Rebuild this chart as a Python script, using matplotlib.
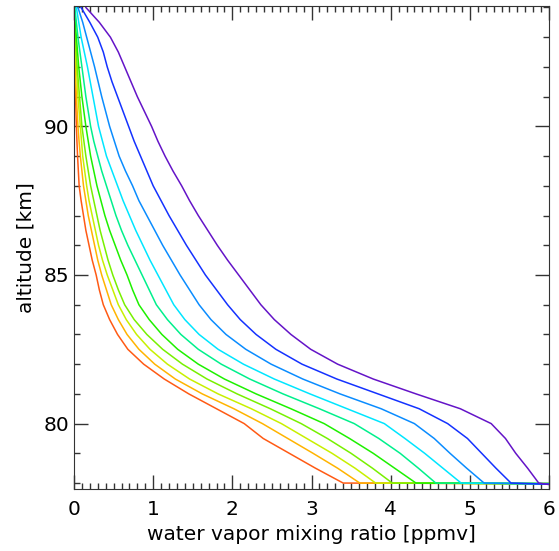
import matplotlib
matplotlib.use("Agg")
import matplotlib.pyplot as plt
from matplotlib.ticker import MultipleLocator

# altitude grid [km], shared by all profiles (94 km down to 78 km, 0.5 km steps)
altitude = [94, 93.5, 93, 92.5, 92, 91.5, 91, 90.5, 90, 89.5, 89, 88.5, 88, 87.5, 87,
            86.5, 86, 85.5, 85, 84.5, 84, 83.5, 83, 82.5, 82, 81.5, 81, 80.5, 80,
            79.5, 79, 78.5, 78]

# water vapor mixing ratio [ppmv], one profile per colour
h2o_1 = [0.0, 0.001, 0.003, 0.006, 0.01, 0.015, 0.02, 0.025, 0.03, 0.037, 0.045, 0.055, 0.065,
         0.09, 0.12, 0.15, 0.19, 0.23, 0.28, 0.32, 0.37, 0.45, 0.55, 0.68, 0.88, 1.14, 1.45,
         1.80, 2.15, 2.39, 2.72, 3.05, 3.40]
h2o_2 = [0.0, 0.002, 0.005, 0.01, 0.015, 0.022, 0.03, 0.04, 0.05, 0.064, 0.08, 0.10, 0.12,
         0.15, 0.18, 0.22, 0.26, 0.30, 0.35, 0.41, 0.47, 0.56, 0.67, 0.82, 1.02, 1.28, 1.62,
         2.02, 2.38, 2.70, 3.02, 3.33, 3.61]
h2o_3 = [0.0, 0.005, 0.01, 0.02, 0.03, 0.04, 0.05, 0.065, 0.08, 0.095, 0.11, 0.135, 0.16,
         0.19, 0.23, 0.27, 0.31, 0.36, 0.42, 0.49, 0.56, 0.66, 0.79, 0.96, 1.18, 1.46, 1.82,
         2.24, 2.62, 2.94, 3.26, 3.55, 3.81]
h2o_4 = [0.0, 0.01, 0.02, 0.03, 0.04, 0.055, 0.07, 0.085, 0.10, 0.125, 0.15, 0.18, 0.21,
         0.25, 0.29, 0.33, 0.38, 0.43, 0.49, 0.56, 0.64, 0.76, 0.92, 1.12, 1.37, 1.68, 2.06,
         2.48, 2.87, 3.20, 3.50, 3.77, 4.02]
h2o_5 = [0.0, 0.015, 0.03, 0.045, 0.06, 0.08, 0.10, 0.125, 0.15, 0.18, 0.21, 0.25, 0.29,
         0.34, 0.39, 0.45, 0.52, 0.59, 0.67, 0.74, 0.82, 0.95, 1.11, 1.31, 1.57, 1.90, 2.30,
         2.74, 3.16, 3.48, 3.78, 4.05, 4.32]
h2o_6 = [0.01, 0.03, 0.05, 0.075, 0.10, 0.125, 0.15, 0.18, 0.21, 0.25, 0.30, 0.35, 0.41,
         0.47, 0.53, 0.60, 0.68, 0.77, 0.86, 0.95, 1.04, 1.18, 1.35, 1.57, 1.86, 2.22, 2.64,
         3.10, 3.54, 3.85, 4.12, 4.35, 4.57]
h2o_7 = [0.03, 0.06, 0.09, 0.13, 0.17, 0.205, 0.24, 0.275, 0.31, 0.36, 0.41, 0.48, 0.55,
         0.62, 0.70, 0.78, 0.87, 0.96, 1.06, 1.16, 1.26, 1.40, 1.58, 1.82, 2.14, 2.53, 2.98,
         3.45, 3.92, 4.18, 4.43, 4.66, 4.89]
h2o_8 = [0.05, 0.11, 0.16, 0.21, 0.26, 0.305, 0.35, 0.40, 0.45, 0.51, 0.57, 0.65, 0.74,
         0.82, 0.92, 1.02, 1.12, 1.23, 1.34, 1.46, 1.58, 1.73, 1.92, 2.17, 2.49, 2.89, 3.36,
         3.88, 4.30, 4.55, 4.75, 4.96, 5.18]
h2o_9 = [0.09, 0.20, 0.30, 0.37, 0.42, 0.48, 0.55, 0.62, 0.69, 0.76, 0.84, 0.92, 1.00,
         1.10, 1.20, 1.31, 1.42, 1.54, 1.66, 1.80, 1.94, 2.10, 2.30, 2.55, 2.88, 3.32, 3.84,
         4.36, 4.72, 4.97, 5.15, 5.33, 5.52]
h2o_10 = [0.15, 0.32, 0.46, 0.56, 0.64, 0.72, 0.80, 0.89, 0.98, 1.06, 1.15, 1.25, 1.36,
          1.46, 1.57, 1.69, 1.81, 1.94, 2.08, 2.22, 2.36, 2.53, 2.74, 2.99, 3.33, 3.78, 4.32,
          4.88, 5.27, 5.45, 5.58, 5.73, 5.87]

profiles = [h2o_1, h2o_2, h2o_3, h2o_4, h2o_5, h2o_6, h2o_7, h2o_8, h2o_9, h2o_10]

# every profile runs out flat to the right edge at the bottom
end_x = 6.0
end_alt = [77.98, 77.98, 77.98, 77.98, 77.98, 77.98, 77.98, 77.97, 77.96, 77.95]

colors = ['#ff5a14', '#ffb400', '#c8f000', '#78f000', '#1ef000',
          '#00f08c', '#00e6ff', '#0a8cff', '#1432ff', '#6414c8']

fig = plt.figure(figsize=(5.59, 5.51), dpi=100)
ax = fig.add_axes([74 / 559, 1 - 489 / 551, 475 / 559, 483 / 551])

for x, ea, c in zip(profiles, end_alt, colors):
    ax.plot(x + [end_x], altitude + [ea], color=c, lw=1.1)

ax.set_xlim(0, 6)
ax.set_ylim(77.8, 94.05)
ax.xaxis.set_major_locator(MultipleLocator(1))
ax.xaxis.set_minor_locator(MultipleLocator(0.1))
ax.yaxis.set_major_locator(MultipleLocator(5))
ax.yaxis.set_minor_locator(MultipleLocator(1))
ax.tick_params(which='both', direction='in', top=True, right=True,
               color='#333333', labelsize=14.5)
ax.tick_params(which='major', length=10, width=1)
ax.tick_params(which='minor', length=4, width=1)
ax.tick_params(axis='x', pad=8)
for s in ax.spines.values():
    s.set_color('#333333')

ax.set_xlabel('water vapor mixing ratio [ppmv]', fontsize=14.5, labelpad=4)
ax.set_ylabel('altitude [km]', fontsize=14.5, labelpad=6)

fig.savefig('out.png', dpi=100)
